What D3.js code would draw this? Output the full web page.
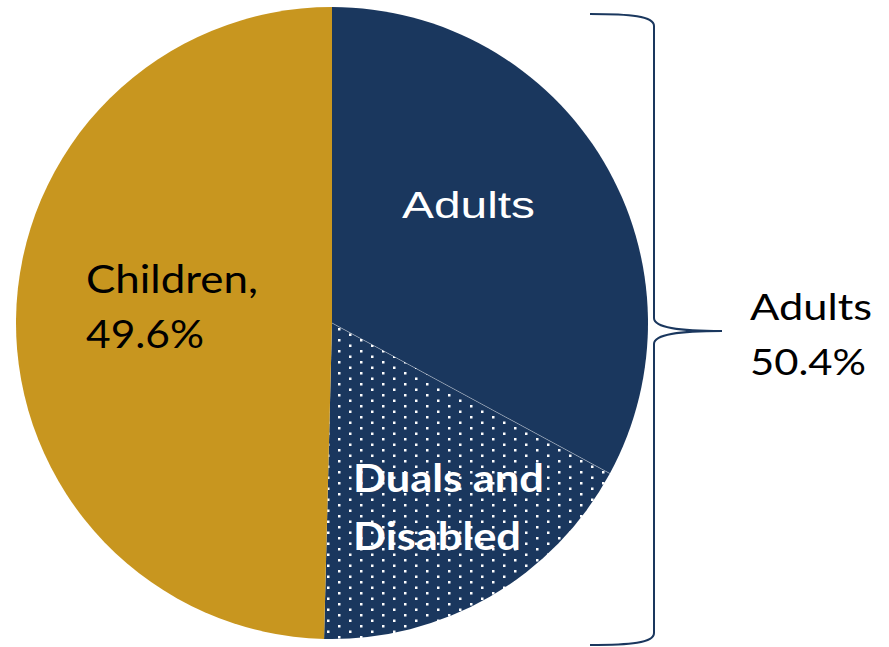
<!DOCTYPE html>
<html>
<head>
<meta charset="utf-8">
<script src="https://cdn.jsdelivr.net/npm/d3@7"></script>
<style>
  html, body { margin: 0; padding: 0; background: #fff; }
  svg { display: block; }
</style>
</head>
<body>
<div id="chart"></div>
<script>
// Enrollment split, pie with bracket over the two adult slices
const categories = ['Adults', 'Duals and Disabled', 'Children'];
const values = [32.9, 17.5, 49.6];
const groupName = 'Adults';
const groupValue = 50.4;

const width = 889, height = 647;
const cx = 332, cy = 323, r = 316;
const navy = '#1a375e', gold = '#c8961f';

const svg = d3.select('#chart').append('svg')
  .attr('width', width)
  .attr('height', height);

// dotted fill for duals slice
const defs = svg.append('defs');
const pat = defs.append('pattern')
  .attr('id', 'dots')
  .attr('patternUnits', 'userSpaceOnUse')
  .attr('x', 6).attr('y', 5)
  .attr('width', 22).attr('height', 11);
pat.append('rect').attr('width', 22).attr('height', 11).attr('fill', navy);
pat.append('rect').attr('x', 0).attr('y', 0).attr('width', 2.5).attr('height', 2.5).attr('fill', '#fff');
pat.append('rect').attr('x', 11).attr('y', 5.5).attr('width', 2.5).attr('height', 2.5).attr('fill', '#fff');

const fills = ['navy', 'dots', 'gold'];
const fillFor = k => k === 'navy' ? navy : k === 'gold' ? gold : 'url(#dots)';

const pie = d3.pie().sort(null).value(d => d.v);
const arcs = pie(categories.map((c, i) => ({ c, v: values[i], f: fills[i] })));
const arc = d3.arc().innerRadius(0).outerRadius(r);

const g = svg.append('g').attr('transform', `translate(${cx},${cy})`);
g.selectAll('path.slice')
  .data(arcs)
  .join('path')
  .attr('class', 'slice')
  .attr('d', arc)
  .attr('fill', d => fillFor(d.data.f));

// thin light divider between the two adult slices
const a1 = arcs[0].endAngle;
g.append('line')
  .attr('x1', 0).attr('y1', 0)
  .attr('x2', r * Math.sin(a1)).attr('y2', -r * Math.cos(a1))
  .attr('stroke', '#ffffff').attr('stroke-opacity', 0.45).attr('stroke-width', 0.8);

// in-slice labels
svg.append('text')
  .attr('x', 402).attr('y', 218)
  .attr('font-family', '"Liberation Sans", Arial, sans-serif')
  .attr('font-size', 37)
  .attr('fill', '#fff')
  .attr('textLength', 133).attr('lengthAdjust', 'spacingAndGlyphs')
  .text(categories[0]);

const dual = svg.append('text')
  .attr('font-family', 'Lato, "Open Sans", sans-serif')
  .attr('font-weight', 'bold')
  .attr('font-size', 39)
  .attr('fill', '#fff');
dual.append('tspan').attr('x', 353).attr('y', 492)
  .attr('textLength', 191).attr('lengthAdjust', 'spacingAndGlyphs')
  .text('Duals and');
dual.append('tspan').attr('x', 353).attr('y', 550)
  .attr('textLength', 168).attr('lengthAdjust', 'spacingAndGlyphs')
  .text('Disabled');

const kid = svg.append('text')
  .attr('font-family', 'Lato, "Open Sans", sans-serif')
  .attr('font-size', 38)
  .attr('fill', '#000');
kid.append('tspan').attr('x', 86).attr('y', 293)
  .attr('textLength', 172).attr('lengthAdjust', 'spacingAndGlyphs')
  .text(categories[2] + ',');
kid.append('tspan').attr('x', 86).attr('y', 348)
  .attr('textLength', 118).attr('lengthAdjust', 'spacingAndGlyphs')
  .text(d3.format('.1f')(values[2]) + '%');

// curly bracket grouping adults
const bx0 = 590, bx = 654, tipX = 722, bTop = 14, tipY = 331, bBot = 645;
const p = d3.path();
p.moveTo(bx0, bTop);
p.bezierCurveTo(630, bTop, bx, bTop + 2, bx, bTop + 12);
p.lineTo(bx, tipY - 13);
p.bezierCurveTo(bx, tipY - 3, 680, tipY, tipX, tipY);
p.moveTo(tipX, tipY);
p.bezierCurveTo(680, tipY, bx, tipY + 3, bx, tipY + 13);
p.lineTo(bx, bBot - 12);
p.bezierCurveTo(bx, bBot - 2, 630, bBot, bx0, bBot);
svg.append('path')
  .attr('d', p.toString())
  .attr('fill', 'none')
  .attr('stroke', navy)
  .attr('stroke-width', 2);

const grp = svg.append('text')
  .attr('font-family', 'Lato, "Open Sans", sans-serif')
  .attr('font-size', 37)
  .attr('fill', '#000');
grp.append('tspan').attr('x', 750).attr('y', 320)
  .attr('textLength', 122).attr('lengthAdjust', 'spacingAndGlyphs')
  .text(groupName);
grp.append('tspan').attr('x', 750).attr('y', 375)
  .attr('textLength', 116).attr('lengthAdjust', 'spacingAndGlyphs')
  .text(d3.format('.1f')(groupValue) + '%');
</script>
</body>
</html>
